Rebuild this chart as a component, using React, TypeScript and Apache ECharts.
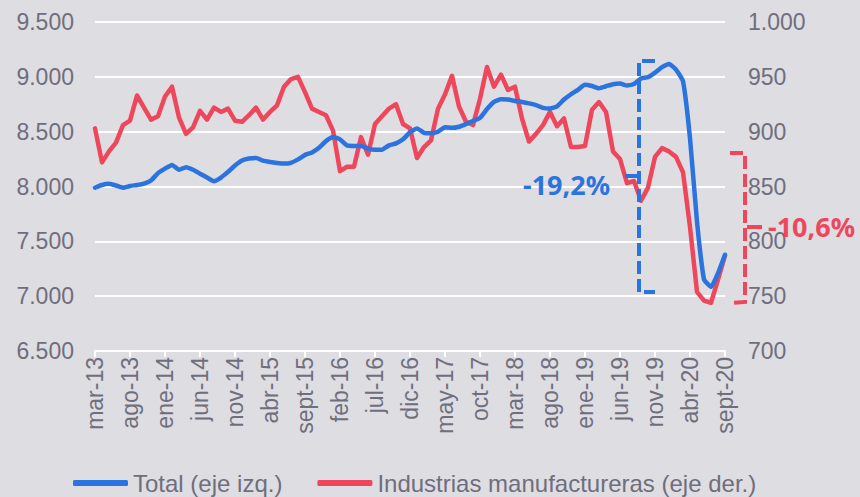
import React, { useEffect, useRef } from "react";
import * as echarts from "echarts";

const monthNames = ["ene", "feb", "mar", "abr", "may", "jun", "jul", "ago", "sept", "oct", "nov", "dic"];
const startYear = 2013;
const startMonth = 2; // marzo
const nPoints = 91;
const categories: string[] = [];
for (let k = 0; k < nPoints; k++) {
  const m = (startMonth + k) % 12;
  const y = startYear + Math.floor((startMonth + k) / 12);
  categories.push(monthNames[m] + "-" + String(y).slice(2));
}

const totalSeries = [
  7989, 8014, 8024, 8009, 7988, 8005, 8014, 8027, 8055, 8122,
  8163, 8197, 8152, 8176, 8153, 8117, 8082, 8049, 8082, 8133,
  8192, 8238, 8256, 8259, 8236, 8224, 8215, 8209, 8216, 8247,
  8288, 8311, 8353, 8414, 8451, 8430, 8375, 8370, 8370, 8346,
  8336, 8336, 8375, 8393, 8430, 8494, 8530, 8490, 8485, 8499,
  8540, 8535, 8545, 8569, 8597, 8626, 8706, 8772, 8796, 8793,
  8780, 8770, 8758, 8743, 8717, 8711, 8731, 8793, 8841, 8882,
  8927, 8916, 8896, 8914, 8933, 8939, 8921, 8935, 8985, 8997,
  9038, 9088, 9118, 9066, 8960, 8440, 7680, 7155, 7085, 7210,
  7378,
];

const manufSeries = [
  903, 872, 882, 890, 906, 910, 933, 922, 911, 914,
  932, 941, 913, 898, 904, 919, 911, 922, 918, 921,
  910, 909, 915, 922, 911, 918, 924, 941, 948, 950,
  936, 921, 918, 915, 901, 864, 868, 868, 895, 879,
  907, 914, 921, 925, 907, 903, 876, 886, 892, 921,
  934, 951, 923, 909, 906, 930, 959, 941, 952, 938,
  941, 912, 891, 898, 906, 918, 905, 912, 886, 886,
  887, 920, 927, 918, 882, 875, 853, 855, 837, 849,
  877, 885, 882, 877, 863, 813, 754, 746, 744, 765,
  787,
];

const leftTicks = { min: 6500, max: 9500, interval: 500 };
const rightTicks = { min: 700, max: 1000, interval: 50 };
const seriesNames = ["Total (eje izq.)", "Industrias manufactureras (eje der.)"];
const annotations = ["-19,2%", "-10,6%"];

const BLUE = "#2B73DE";
const RED = "#EE475C";
const BG = "#DEDDE2";
const TEXT = "#6F6E7C";
const FONT = "'Liberation Sans', Arial, sans-serif";

const fmt = (v: number) => {
  const s = String(Math.round(v));
  return s.replace(/\B(?=(\d{3})+(?!\d))/g, ".");
};

export default function App() {
  const ref = useRef<HTMLDivElement>(null);
  useEffect(() => {
    if (!ref.current) return;
    const chart = echarts.init(ref.current, undefined, { renderer: "svg" });
    const dash = [13, 5];
    chart.setOption({
      animation: false,
      backgroundColor: BG,
      textStyle: { fontFamily: FONT },
      grid: { left: 95, right: 135, top: 22, bottom: 146, containLabel: false },
      legend: {
        left: 73,
        top: 471,
        padding: 0,
        icon: "roundRect",
        itemWidth: 55,
        itemHeight: 6,
        itemGap: 35,
        textStyle: { fontSize: 24, lineHeight: 24, color: TEXT, fontFamily: FONT, padding: [0, 0, 0, 0] },
        data: seriesNames,
      },
      xAxis: {
        type: "category",
        data: categories,
        boundaryGap: false,
        axisLine: { lineStyle: { color: "#FFFFFF", width: 2 } },
        axisTick: { show: true, interval: 4, length: 6, lineStyle: { color: "#FFFFFF", width: 2 } },
        axisLabel: { interval: 4, rotate: 90, fontSize: 23, color: TEXT, fontFamily: FONT, margin: 6 },
        splitLine: { show: false },
      },
      yAxis: [
        {
          type: "value",
          min: leftTicks.min,
          max: leftTicks.max,
          interval: leftTicks.interval,
          axisLine: { show: false },
          axisTick: { show: false },
          axisLabel: { formatter: fmt, fontSize: 23, color: TEXT, fontFamily: FONT, margin: 21 },
          splitLine: { show: true, lineStyle: { color: "#FFFFFF", width: 2 } },
        },
        {
          type: "value",
          min: rightTicks.min,
          max: rightTicks.max,
          interval: rightTicks.interval,
          axisLine: { show: false },
          axisTick: { show: false },
          axisLabel: { formatter: fmt, fontSize: 23, color: TEXT, fontFamily: FONT, margin: 23 },
          splitLine: { show: false },
        },
      ],
      series: [
        {
          name: seriesNames[0],
          type: "line",
          yAxisIndex: 0,
          data: totalSeries,
          showSymbol: false,
          symbol: "none",
          smooth: 0.15,
          lineStyle: { color: BLUE, width: 4.5, cap: "round", join: "round" },
          itemStyle: { color: BLUE },
          z: 3,
        },
        {
          name: seriesNames[1],
          type: "line",
          yAxisIndex: 1,
          data: manufSeries,
          showSymbol: false,
          symbol: "none",
          lineStyle: { color: RED, width: 4.5, cap: "round", join: "round" },
          itemStyle: { color: RED },
          z: 2,
        },
      ],
      graphic: [
        {
          type: "polyline",
          z: 10,
          shape: { points: [[655, 61], [639, 61], [639, 292], [655, 292]] },
          style: { stroke: BLUE, lineWidth: 4, lineDash: dash, fill: null },
        },
        {
          type: "line",
          z: 10,
          shape: { x1: 625, y1: 176, x2: 639, y2: 176 },
          style: { stroke: BLUE, lineWidth: 4 },
        },
        {
          type: "polyline",
          z: 10,
          shape: { points: [[730, 153], [745, 153], [745, 302], [732, 303]] },
          style: { stroke: RED, lineWidth: 4, lineDash: dash, fill: null },
        },
        {
          type: "line",
          z: 10,
          shape: { x1: 747, y1: 227, x2: 762, y2: 227 },
          style: { stroke: RED, lineWidth: 4 },
        },
        {
          type: "text",
          z: 11,
          x: 523,
          y: 184,
          style: {
            text: annotations[0],
            fill: BLUE,
            fontSize: 27,
            fontWeight: "bold",
            fontFamily: "'Noto Sans', 'Open Sans', sans-serif",
            textAlign: "left",
            textVerticalAlign: "middle",
          },
        },
        {
          type: "text",
          z: 11,
          x: 768,
          y: 226,
          style: {
            text: annotations[1],
            fill: RED,
            fontSize: 27,
            fontWeight: "bold",
            fontFamily: "'Noto Sans', 'Open Sans', sans-serif",
            textAlign: "left",
            textVerticalAlign: "middle",
          },
        },
      ],
    });
    return () => chart.dispose();
  }, []);
  return (
    <div
      ref={ref}
      style={{ position: "absolute", left: 0, top: 0, width: 860, height: 497 }}
    />
  );
}
